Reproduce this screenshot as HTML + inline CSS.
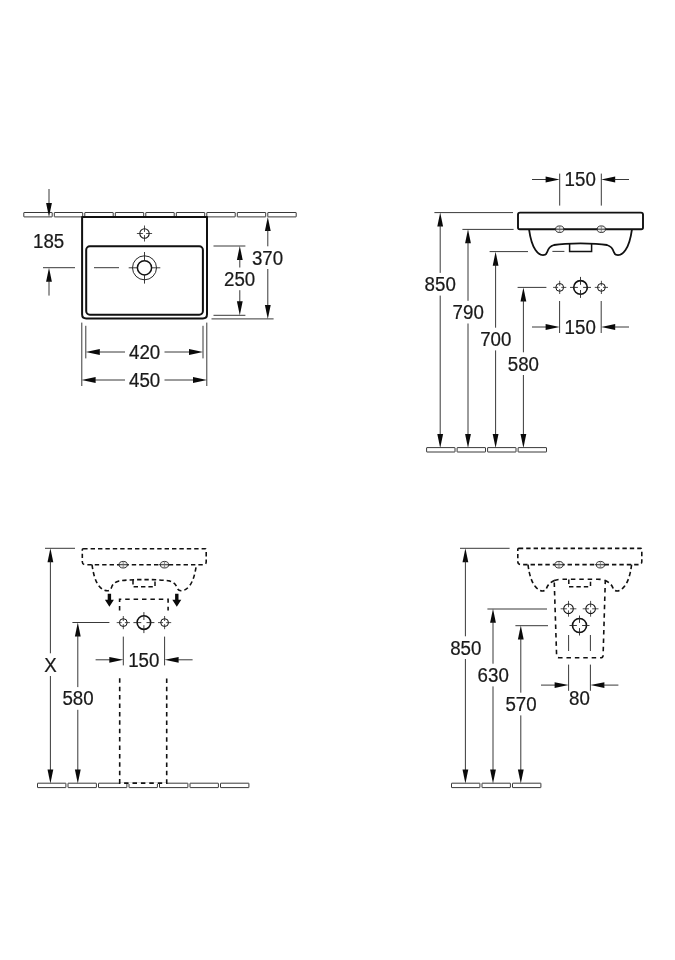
<!DOCTYPE html>
<html><head><meta charset="utf-8"><title>Drawing</title>
<style>
html,body{margin:0;padding:0;background:#fff;}
body{width:675px;height:960px;overflow:hidden;font-family:"Liberation Sans",sans-serif;}
svg{display:block;will-change:transform;}
svg text{font-family:"Liberation Sans",sans-serif;}
</style></head><body>
<svg width="675" height="960" viewBox="0 0 675 960">
<rect width="675" height="960" fill="#fff"/>
<rect x="23.80" y="212.5" width="28.4" height="4.4" rx="0.3" fill="#fff" stroke="#222" stroke-width="0.9"/>
<rect x="54.30" y="212.5" width="28.4" height="4.4" rx="0.3" fill="#fff" stroke="#222" stroke-width="0.9"/>
<rect x="84.80" y="212.5" width="28.4" height="4.4" rx="0.3" fill="#fff" stroke="#222" stroke-width="0.9"/>
<rect x="115.30" y="212.5" width="28.4" height="4.4" rx="0.3" fill="#fff" stroke="#222" stroke-width="0.9"/>
<rect x="145.80" y="212.5" width="28.4" height="4.4" rx="0.3" fill="#fff" stroke="#222" stroke-width="0.9"/>
<rect x="176.30" y="212.5" width="28.4" height="4.4" rx="0.3" fill="#fff" stroke="#222" stroke-width="0.9"/>
<rect x="206.80" y="212.5" width="28.4" height="4.4" rx="0.3" fill="#fff" stroke="#222" stroke-width="0.9"/>
<rect x="237.30" y="212.5" width="28.4" height="4.4" rx="0.3" fill="#fff" stroke="#222" stroke-width="0.9"/>
<rect x="267.80" y="212.5" width="28.4" height="4.4" rx="0.3" fill="#fff" stroke="#222" stroke-width="0.9"/>
<path d="M82.1 217 L82.1 314.2 Q82.1 318.4 86.3 318.4 L202.8 318.4 Q207 318.4 207 314.2 L207 217 Z" fill="#fff" stroke="#111" stroke-width="2" stroke-linejoin="round"/>
<rect x="86.2" y="246.3" width="116.7" height="68.4" rx="3.6" fill="none" stroke="#111" stroke-width="2"/>
<circle cx="144.5" cy="233.5" r="4.7" fill="none" stroke="#111" stroke-width="1.05"/>
<path d="M136.9 233.5L142.9 233.5" stroke="#222" stroke-width="0.8" fill="none" />
<path d="M146.1 233.5L152.1 233.5" stroke="#222" stroke-width="0.8" fill="none" />
<path d="M144.5 225.5L144.5 231.9" stroke="#222" stroke-width="0.8" fill="none" />
<path d="M144.5 235.1L144.5 241.5" stroke="#222" stroke-width="0.8" fill="none" />
<circle cx="144.5" cy="267.8" r="12" fill="none" stroke="#111" stroke-width="0.9"/>
<circle cx="144.5" cy="267.8" r="7.1" fill="none" stroke="#111" stroke-width="1.5"/>
<path d="M128.7 267.8L137.5 267.8" stroke="#222" stroke-width="0.9" fill="none" />
<path d="M151.5 267.8L160.3 267.8" stroke="#222" stroke-width="0.9" fill="none" />
<path d="M144.5 252.0L144.5 260.8" stroke="#222" stroke-width="0.9" fill="none" />
<path d="M144.5 274.8L144.5 283.6" stroke="#222" stroke-width="0.9" fill="none" />
<path d="M49 189L49 205" stroke="#222" stroke-width="0.9" fill="none" />
<polygon points="49.00,217.00 46.10,203.00 51.90,203.00" fill="#0a0a0a"/>
<text transform="translate(48.6 248) scale(0.985 1.055)" x="0" y="0" font-size="19" text-anchor="middle" fill="#1a1a1a" stroke="#1a1a1a" stroke-width="0.22">185</text>
<path d="M43 267.7L75 267.7" stroke="#222" stroke-width="0.9" fill="none" />
<path d="M94 267.7L119 267.7" stroke="#222" stroke-width="0.9" fill="none" />
<polygon points="49.00,267.70 46.10,281.70 51.90,281.70" fill="#0a0a0a"/>
<path d="M49 280L49 295.6" stroke="#222" stroke-width="0.9" fill="none" />
<path d="M213.5 246L245.4 246" stroke="#222" stroke-width="0.9" fill="none" />
<path d="M213.5 315.3L245.4 315.3" stroke="#222" stroke-width="0.9" fill="none" />
<polygon points="239.80,246.00 236.90,260.00 242.70,260.00" fill="#0a0a0a"/>
<path d="M239.8 258L239.8 267.5" stroke="#222" stroke-width="0.9" fill="none" />
<text transform="translate(239.6 285.8) scale(0.985 1.055)" x="0" y="0" font-size="19" text-anchor="middle" fill="#1a1a1a" stroke="#1a1a1a" stroke-width="0.22">250</text>
<path d="M239.8 290.2L239.8 303.3" stroke="#222" stroke-width="0.9" fill="none" />
<polygon points="239.80,315.30 236.90,301.30 242.70,301.30" fill="#0a0a0a"/>
<polygon points="267.80,217.00 264.90,231.00 270.70,231.00" fill="#0a0a0a"/>
<path d="M267.8 229L267.8 246.3" stroke="#222" stroke-width="0.9" fill="none" />
<text transform="translate(267.5 264.6) scale(0.985 1.055)" x="0" y="0" font-size="19" text-anchor="middle" fill="#1a1a1a" stroke="#1a1a1a" stroke-width="0.22">370</text>
<path d="M267.8 269.0L267.8 306.9" stroke="#222" stroke-width="0.9" fill="none" />
<polygon points="267.80,318.90 264.90,304.90 270.70,304.90" fill="#0a0a0a"/>
<path d="M211.5 318.9L273.6 318.9" stroke="#222" stroke-width="0.9" fill="none" />
<path d="M81.8 322.6L81.8 386" stroke="#222" stroke-width="0.9" fill="none" />
<path d="M206.8 322.6L206.8 386" stroke="#222" stroke-width="0.9" fill="none" />
<path d="M85.8 325.8L85.8 358.4" stroke="#222" stroke-width="0.9" fill="none" />
<path d="M203 325.8L203 358.4" stroke="#222" stroke-width="0.9" fill="none" />
<polygon points="85.80,352.00 99.80,349.10 99.80,354.90" fill="#0a0a0a"/>
<path d="M99 352L125 352" stroke="#222" stroke-width="0.9" fill="none" />
<text transform="translate(144.6 359.2) scale(0.985 1.055)" x="0" y="0" font-size="19" text-anchor="middle" fill="#1a1a1a" stroke="#1a1a1a" stroke-width="0.22">420</text>
<path d="M164.5 352L190 352" stroke="#222" stroke-width="0.9" fill="none" />
<polygon points="203.00,352.00 189.00,349.10 189.00,354.90" fill="#0a0a0a"/>
<polygon points="81.60,380.00 95.60,377.10 95.60,382.90" fill="#0a0a0a"/>
<path d="M95 380L125 380" stroke="#222" stroke-width="0.9" fill="none" />
<text transform="translate(144.6 387.2) scale(0.985 1.055)" x="0" y="0" font-size="19" text-anchor="middle" fill="#1a1a1a" stroke="#1a1a1a" stroke-width="0.22">450</text>
<path d="M164.5 380L194 380" stroke="#222" stroke-width="0.9" fill="none" />
<polygon points="207.00,380.00 193.00,377.10 193.00,382.90" fill="#0a0a0a"/>
<path d="M559.7 173.6L559.7 205.6" stroke="#222" stroke-width="0.9" fill="none" />
<path d="M601.3 173.6L601.3 205.6" stroke="#222" stroke-width="0.9" fill="none" />
<path d="M532 179.5L547 179.5" stroke="#222" stroke-width="0.9" fill="none" />
<polygon points="559.60,179.50 545.60,176.60 545.60,182.40" fill="#0a0a0a"/>
<polygon points="601.20,179.50 615.20,176.60 615.20,182.40" fill="#0a0a0a"/>
<path d="M614 179.5L629 179.5" stroke="#222" stroke-width="0.9" fill="none" />
<text transform="translate(580.2 186.2) scale(0.985 1.055)" x="0" y="0" font-size="19" text-anchor="middle" fill="#1a1a1a" stroke="#1a1a1a" stroke-width="0.22">150</text>
<path d="M520 212.6 L641 212.6 Q643 212.6 643 214.6 L643 227.4 Q643 229.2 641.2 229.2 L519.8 229.2 Q518 229.2 518 227.4 L518 214.6 Q518 212.6 520 212.6 Z" fill="#fff" stroke="#111" stroke-width="1.9"/>
<path d="M529 229.2 C530.5 240 532.5 246 535.5 250 C538 253.6 540.5 255.2 543 255.2 C545.6 255.2 546.6 254 547.2 252 C548.2 248.4 550 246.2 554 245 C560 243.9 570 243.3 580.5 243.3 C591 243.3 601 243.9 607 245 C611 246.2 612.8 248.4 613.8 252 C614.4 254 615.4 255.2 618 255.2 C620.5 255.2 623 253.6 625.5 250 C628.5 246 630.5 240 632 229.2" fill="none" stroke="#111" stroke-width="1.8"/>
<path d="M569.6 243.6 L569.6 251.4 L591.6 251.4 L591.6 243.6" fill="none" stroke="#111" stroke-width="1.5"/>
<ellipse cx="559.7" cy="229.2" rx="4.1" ry="3.3" fill="#ececec" stroke="#222" stroke-width="0.9"/>
<path d="M554.1 229.2L565.3000000000001 229.2" stroke="#222" stroke-width="0.9" fill="none" />
<path d="M559.7 226.2L559.7 232.2" stroke="#666" stroke-width="0.7" fill="none" />
<ellipse cx="601.3" cy="229.2" rx="4.1" ry="3.3" fill="#ececec" stroke="#222" stroke-width="0.9"/>
<path d="M595.6999999999999 229.2L606.9 229.2" stroke="#222" stroke-width="0.9" fill="none" />
<path d="M601.3 226.2L601.3 232.2" stroke="#666" stroke-width="0.7" fill="none" />
<circle cx="559.7" cy="287.4" r="3.9" fill="none" stroke="#111" stroke-width="1.0"/>
<path d="M553.1 287.4L558.1 287.4" stroke="#222" stroke-width="0.8" fill="none" />
<path d="M561.3000000000001 287.4L566.3000000000001 287.4" stroke="#222" stroke-width="0.8" fill="none" />
<path d="M559.7 280.79999999999995L559.7 285.79999999999995" stroke="#222" stroke-width="0.8" fill="none" />
<path d="M559.7 289.0L559.7 294.0" stroke="#222" stroke-width="0.8" fill="none" />
<circle cx="601.4" cy="287.4" r="3.9" fill="none" stroke="#111" stroke-width="1.0"/>
<path d="M594.8 287.4L599.8 287.4" stroke="#222" stroke-width="0.8" fill="none" />
<path d="M603.0 287.4L608.0 287.4" stroke="#222" stroke-width="0.8" fill="none" />
<path d="M601.4 280.79999999999995L601.4 285.79999999999995" stroke="#222" stroke-width="0.8" fill="none" />
<path d="M601.4 289.0L601.4 294.0" stroke="#222" stroke-width="0.8" fill="none" />
<circle cx="580.5" cy="287.4" r="6.8" fill="none" stroke="#111" stroke-width="1.6"/>
<path d="M570.0 287.4L577.9 287.4" stroke="#222" stroke-width="0.9" fill="none" />
<path d="M583.1 287.4L591.0 287.4" stroke="#222" stroke-width="0.9" fill="none" />
<path d="M580.5 276.9L580.5 284.79999999999995" stroke="#222" stroke-width="0.9" fill="none" />
<path d="M580.5 290.0L580.5 297.9" stroke="#222" stroke-width="0.9" fill="none" />
<path d="M559.6 301L559.6 333" stroke="#222" stroke-width="0.9" fill="none" />
<path d="M601.2 301L601.2 333" stroke="#222" stroke-width="0.9" fill="none" />
<path d="M532 327L547 327" stroke="#222" stroke-width="0.9" fill="none" />
<polygon points="559.60,327.00 545.60,324.10 545.60,329.90" fill="#0a0a0a"/>
<polygon points="601.20,327.00 615.20,324.10 615.20,329.90" fill="#0a0a0a"/>
<path d="M614 327L629 327" stroke="#222" stroke-width="0.9" fill="none" />
<text transform="translate(580.2 334.3) scale(0.985 1.055)" x="0" y="0" font-size="19" text-anchor="middle" fill="#1a1a1a" stroke="#1a1a1a" stroke-width="0.22">150</text>
<path d="M434.4 212.6L513 212.6" stroke="#222" stroke-width="0.9" fill="none" />
<polygon points="440.20,212.60 437.30,226.60 443.10,226.60" fill="#0a0a0a"/>
<path d="M440.2 224.6L440.2 272.9" stroke="#222" stroke-width="0.9" fill="none" />
<text transform="translate(440.2 291.2) scale(0.985 1.055)" x="0" y="0" font-size="19" text-anchor="middle" fill="#1a1a1a" stroke="#1a1a1a" stroke-width="0.22">850</text>
<path d="M440.2 295.59999999999997L440.2 436" stroke="#222" stroke-width="0.9" fill="none" />
<polygon points="440.20,448.00 437.30,434.00 443.10,434.00" fill="#0a0a0a"/>
<path d="M462.4 229.4L513.6 229.4" stroke="#222" stroke-width="0.9" fill="none" />
<polygon points="468.00,229.20 465.10,243.20 470.90,243.20" fill="#0a0a0a"/>
<path d="M468 241.2L468 300.8" stroke="#222" stroke-width="0.9" fill="none" />
<text transform="translate(468.2 319.1) scale(0.985 1.055)" x="0" y="0" font-size="19" text-anchor="middle" fill="#1a1a1a" stroke="#1a1a1a" stroke-width="0.22">790</text>
<path d="M468 323.5L468 436" stroke="#222" stroke-width="0.9" fill="none" />
<polygon points="468.00,448.00 465.10,434.00 470.90,434.00" fill="#0a0a0a"/>
<path d="M489.6 251.6L528 251.6" stroke="#222" stroke-width="0.9" fill="none" />
<path d="M552.4 251.4L564.4 251.4" stroke="#222" stroke-width="0.9" fill="none" />
<polygon points="495.60,251.70 492.70,265.70 498.50,265.70" fill="#0a0a0a"/>
<path d="M495.6 263.7L495.6 327.7" stroke="#222" stroke-width="0.9" fill="none" />
<text transform="translate(495.8 346) scale(0.985 1.055)" x="0" y="0" font-size="19" text-anchor="middle" fill="#1a1a1a" stroke="#1a1a1a" stroke-width="0.22">700</text>
<path d="M495.6 350.4L495.6 436" stroke="#222" stroke-width="0.9" fill="none" />
<polygon points="495.60,448.00 492.70,434.00 498.50,434.00" fill="#0a0a0a"/>
<path d="M517.6 287.4L546.4 287.4" stroke="#222" stroke-width="0.9" fill="none" />
<polygon points="523.40,287.40 520.50,301.40 526.30,301.40" fill="#0a0a0a"/>
<path d="M523.4 299.4L523.4 352.3" stroke="#222" stroke-width="0.9" fill="none" />
<text transform="translate(523.4 370.6) scale(0.985 1.055)" x="0" y="0" font-size="19" text-anchor="middle" fill="#1a1a1a" stroke="#1a1a1a" stroke-width="0.22">580</text>
<path d="M523.4 375.0L523.4 436" stroke="#222" stroke-width="0.9" fill="none" />
<polygon points="523.40,448.00 520.50,434.00 526.30,434.00" fill="#0a0a0a"/>
<rect x="426.60" y="447.6" width="28.4" height="4.4" rx="0.3" fill="#fff" stroke="#222" stroke-width="0.9"/>
<rect x="457.10" y="447.6" width="28.4" height="4.4" rx="0.3" fill="#fff" stroke="#222" stroke-width="0.9"/>
<rect x="487.60" y="447.6" width="28.4" height="4.4" rx="0.3" fill="#fff" stroke="#222" stroke-width="0.9"/>
<rect x="518.10" y="447.6" width="28.4" height="4.4" rx="0.3" fill="#fff" stroke="#222" stroke-width="0.9"/>
<rect x="37.50" y="783.2" width="28.4" height="4.4" rx="0.3" fill="#fff" stroke="#222" stroke-width="0.9"/>
<rect x="68.00" y="783.2" width="28.4" height="4.4" rx="0.3" fill="#fff" stroke="#222" stroke-width="0.9"/>
<rect x="98.50" y="783.2" width="28.4" height="4.4" rx="0.3" fill="#fff" stroke="#222" stroke-width="0.9"/>
<rect x="129.00" y="783.2" width="28.4" height="4.4" rx="0.3" fill="#fff" stroke="#222" stroke-width="0.9"/>
<rect x="159.50" y="783.2" width="28.4" height="4.4" rx="0.3" fill="#fff" stroke="#222" stroke-width="0.9"/>
<rect x="190.00" y="783.2" width="28.4" height="4.4" rx="0.3" fill="#fff" stroke="#222" stroke-width="0.9"/>
<rect x="220.50" y="783.2" width="28.4" height="4.4" rx="0.3" fill="#fff" stroke="#222" stroke-width="0.9"/>
<path d="M83.2 548.7 L205.2 548.7 Q206.2 548.7 206.2 549.7 L206.2 561.7 Q206.2 564.7 203.2 564.7 L85.3 564.7 Q82.3 564.7 82.3 561.7 L82.3 549.7 Q82.3 548.7 83.3 548.7" fill="none" stroke="#111" stroke-width="1.6" stroke-dasharray="4.4 3.0"/>
<path d="M92 564.7 C93.5 575 95.5 581.5 99 586 C101.6 589.3 104.5 590.8 107.4 590.8 C109.8 590.8 110.8 589.4 111.6 587.2 C112.8 584 115 582 119 580.9 C127 579.8 136 579.6 144.2 579.6 C152.4 579.6 161.4 579.8 169.4 580.9 C173.4 582 175.6 584 176.8 587.2 C177.6 589.4 178.6 590.8 181 590.8 C183.9 590.8 186.8 589.3 189.4 586 C192.9 581.5 194.9 575 196.4 564.7" fill="none" stroke="#111" stroke-width="1.6" stroke-dasharray="4.4 3.0"/>
<path d="M133 580 L133 586.8 L155 586.8 L155 580" fill="none" stroke="#111" stroke-width="1.5" stroke-dasharray="4.4 3.0"/>
<ellipse cx="123.2" cy="564.7" rx="4.1" ry="3.3" fill="#ececec" stroke="#222" stroke-width="0.9"/>
<path d="M117.60000000000001 564.7L128.8 564.7" stroke="#222" stroke-width="0.9" fill="none" />
<path d="M123.2 561.7L123.2 567.7" stroke="#666" stroke-width="0.7" fill="none" />
<ellipse cx="164.5" cy="564.7" rx="4.1" ry="3.3" fill="#ececec" stroke="#222" stroke-width="0.9"/>
<path d="M158.9 564.7L170.1 564.7" stroke="#222" stroke-width="0.9" fill="none" />
<path d="M164.5 561.7L164.5 567.7" stroke="#666" stroke-width="0.7" fill="none" />
<path d="M107.7 593.8 L111.10000000000001 593.8 L111.10000000000001 599.8 L113.9 599.8 L109.4 606.8 L104.9 599.8 L107.7 599.8 Z" fill="#0a0a0a"/>
<path d="M175.10000000000002 593.8 L178.5 593.8 L178.5 599.8 L181.3 599.8 L176.8 606.8 L172.3 599.8 L175.10000000000002 599.8 Z" fill="#0a0a0a"/>
<path d="M119.6 610.4 L119.6 599.2 L168.1 599.2 L168.1 610.4" fill="none" stroke="#111" stroke-width="1.6" stroke-dasharray="4.5 3.9"/>
<path d="M120.6 783.2L166 783.2" stroke="#fff" stroke-width="1.6" fill="none" />
<path d="M119.7 678.3 L119.7 783.1 L166.7 783.1 L166.7 678.3" fill="none" stroke="#111" stroke-width="1.6" stroke-dasharray="4.5 3.9"/>
<circle cx="123.3" cy="622.6" r="3.9" fill="none" stroke="#111" stroke-width="1.0"/>
<path d="M116.7 622.6L121.7 622.6" stroke="#222" stroke-width="0.8" fill="none" />
<path d="M124.89999999999999 622.6L129.9 622.6" stroke="#222" stroke-width="0.8" fill="none" />
<path d="M123.3 616.0L123.3 621.0" stroke="#222" stroke-width="0.8" fill="none" />
<path d="M123.3 624.2L123.3 629.2" stroke="#222" stroke-width="0.8" fill="none" />
<circle cx="164.6" cy="622.6" r="3.9" fill="none" stroke="#111" stroke-width="1.0"/>
<path d="M158.0 622.6L163.0 622.6" stroke="#222" stroke-width="0.8" fill="none" />
<path d="M166.2 622.6L171.2 622.6" stroke="#222" stroke-width="0.8" fill="none" />
<path d="M164.6 616.0L164.6 621.0" stroke="#222" stroke-width="0.8" fill="none" />
<path d="M164.6 624.2L164.6 629.2" stroke="#222" stroke-width="0.8" fill="none" />
<circle cx="143.9" cy="622.6" r="6.8" fill="none" stroke="#111" stroke-width="1.6"/>
<path d="M133.4 622.6L141.3 622.6" stroke="#222" stroke-width="0.9" fill="none" />
<path d="M146.5 622.6L154.4 622.6" stroke="#222" stroke-width="0.9" fill="none" />
<path d="M143.9 612.1L143.9 620.0" stroke="#222" stroke-width="0.9" fill="none" />
<path d="M143.9 625.2L143.9 633.1" stroke="#222" stroke-width="0.9" fill="none" />
<path d="M123.3 636.6L123.3 665.4" stroke="#222" stroke-width="0.9" fill="none" />
<path d="M164.6 636.6L164.6 665.4" stroke="#222" stroke-width="0.9" fill="none" />
<path d="M95.6 659.8L110 659.8" stroke="#222" stroke-width="0.9" fill="none" />
<polygon points="123.30,659.80 109.30,656.90 109.30,662.70" fill="#0a0a0a"/>
<polygon points="164.60,659.80 178.60,656.90 178.60,662.70" fill="#0a0a0a"/>
<path d="M178 659.8L192.6 659.8" stroke="#222" stroke-width="0.9" fill="none" />
<text transform="translate(143.8 666.8) scale(0.985 1.055)" x="0" y="0" font-size="19" text-anchor="middle" fill="#1a1a1a" stroke="#1a1a1a" stroke-width="0.22">150</text>
<path d="M45 548.3L75 548.3" stroke="#222" stroke-width="0.9" fill="none" />
<polygon points="50.40,548.30 47.50,562.30 53.30,562.30" fill="#0a0a0a"/>
<path d="M50.4 560.3L50.4 653.3000000000001" stroke="#222" stroke-width="0.9" fill="none" />
<text transform="translate(50.6 671.6) scale(0.985 1.055)" x="0" y="0" font-size="19" text-anchor="middle" fill="#1a1a1a" stroke="#1a1a1a" stroke-width="0.22">X</text>
<path d="M50.4 676.0L50.4 771.6" stroke="#222" stroke-width="0.9" fill="none" />
<polygon points="50.40,783.60 47.50,769.60 53.30,769.60" fill="#0a0a0a"/>
<path d="M72.4 622.5L109.4 622.5" stroke="#222" stroke-width="0.9" fill="none" />
<polygon points="77.80,622.50 74.90,636.50 80.70,636.50" fill="#0a0a0a"/>
<path d="M77.8 634.5L77.8 687.1" stroke="#222" stroke-width="0.9" fill="none" />
<text transform="translate(78 705.4) scale(0.985 1.055)" x="0" y="0" font-size="19" text-anchor="middle" fill="#1a1a1a" stroke="#1a1a1a" stroke-width="0.22">580</text>
<path d="M77.8 709.8L77.8 771.6" stroke="#222" stroke-width="0.9" fill="none" />
<polygon points="77.80,783.60 74.90,769.60 80.70,769.60" fill="#0a0a0a"/>
<rect x="451.50" y="783.2" width="28.4" height="4.4" rx="0.3" fill="#fff" stroke="#222" stroke-width="0.9"/>
<rect x="482.00" y="783.2" width="28.4" height="4.4" rx="0.3" fill="#fff" stroke="#222" stroke-width="0.9"/>
<rect x="512.50" y="783.2" width="28.4" height="4.4" rx="0.3" fill="#fff" stroke="#222" stroke-width="0.9"/>
<path d="M518.8 548.4 L640.8 548.4 Q641.8 548.4 641.8 549.4 L641.8 561.6 Q641.8 564.6 638.8 564.6 L520.8 564.6 Q517.8 564.6 517.8 561.6 L517.8 549.4 Q517.8 548.4 518.8 548.4" fill="none" stroke="#111" stroke-width="1.6" stroke-dasharray="4.4 3.0"/>
<path d="M528 564.6 C529.4 576 531.9 582 534.9 586 C537.4 589.4 539.9 591 542.4 591 C545 591 546 589.6 546.8 587.6 C548 584.6 550.4 582.4 554.4 580.6" fill="none" stroke="#111" stroke-width="1.6" stroke-dasharray="4.4 3.0"/>
<path d="M631.6 564.6 C630.2 576 627.7 582 624.7 586 C622.2 589.4 619.7 591 617.2 591 C614.6 591 613.6 589.6 612.8 587.6 C611.6 584.6 609.2 582.4 605.2 580.6" fill="none" stroke="#111" stroke-width="1.6" stroke-dasharray="4.4 3.0"/>
<path d="M554.2 580.6 Q558 579.2 562 579.2 L597.6 579.2 Q601.6 579.2 605.3 580.6 L603.1 655.4 Q603 657.7 600.7 657.7 L559 657.7 Q556.7 657.7 556.6 655.4 Z" fill="none" stroke="#111" stroke-width="1.6" stroke-dasharray="4.5 3.9"/>
<path d="M568.8 579.6 L568.8 586.8 L590.5 586.8 L590.5 579.6" fill="none" stroke="#111" stroke-width="1.5" stroke-dasharray="4.4 3.0"/>
<ellipse cx="559" cy="564.7" rx="4.1" ry="3.3" fill="#ececec" stroke="#222" stroke-width="0.9"/>
<path d="M553.4 564.7L564.6 564.7" stroke="#222" stroke-width="0.9" fill="none" />
<path d="M559 561.7L559 567.7" stroke="#666" stroke-width="0.7" fill="none" />
<ellipse cx="600.4" cy="564.7" rx="4.1" ry="3.3" fill="#ececec" stroke="#222" stroke-width="0.9"/>
<path d="M594.8 564.7L606.0 564.7" stroke="#222" stroke-width="0.9" fill="none" />
<path d="M600.4 561.7L600.4 567.7" stroke="#666" stroke-width="0.7" fill="none" />
<circle cx="568.5" cy="608.8" r="4.8" fill="none" stroke="#111" stroke-width="1.05"/>
<path d="M560.6 608.8L566.9 608.8" stroke="#222" stroke-width="0.8" fill="none" />
<path d="M570.1 608.8L576.4 608.8" stroke="#222" stroke-width="0.8" fill="none" />
<path d="M568.5 600.9L568.5 607.1999999999999" stroke="#222" stroke-width="0.8" fill="none" />
<path d="M568.5 610.4L568.5 616.6999999999999" stroke="#222" stroke-width="0.8" fill="none" />
<circle cx="590.6" cy="608.8" r="4.8" fill="none" stroke="#111" stroke-width="1.05"/>
<path d="M582.7 608.8L589.0 608.8" stroke="#222" stroke-width="0.8" fill="none" />
<path d="M592.2 608.8L598.5 608.8" stroke="#222" stroke-width="0.8" fill="none" />
<path d="M590.6 600.9L590.6 607.1999999999999" stroke="#222" stroke-width="0.8" fill="none" />
<path d="M590.6 610.4L590.6 616.6999999999999" stroke="#222" stroke-width="0.8" fill="none" />
<circle cx="579.5" cy="625.5" r="7.0" fill="none" stroke="#111" stroke-width="1.6"/>
<path d="M569.5 625.5L576.9 625.5" stroke="#222" stroke-width="0.9" fill="none" />
<path d="M582.1 625.5L589.5 625.5" stroke="#222" stroke-width="0.9" fill="none" />
<path d="M579.5 615.5L579.5 622.9" stroke="#222" stroke-width="0.9" fill="none" />
<path d="M579.5 628.1L579.5 635.5" stroke="#222" stroke-width="0.9" fill="none" />
<path d="M568.6 635L568.6 651" stroke="#222" stroke-width="0.9" fill="none" />
<path d="M590.4 635L590.4 651" stroke="#222" stroke-width="0.9" fill="none" />
<path d="M568.6 664.6L568.6 690.8" stroke="#222" stroke-width="0.9" fill="none" />
<path d="M590.4 664.6L590.4 690.8" stroke="#222" stroke-width="0.9" fill="none" />
<path d="M541 685.1L556 685.1" stroke="#222" stroke-width="0.9" fill="none" />
<polygon points="568.60,685.10 554.60,682.20 554.60,688.00" fill="#0a0a0a"/>
<polygon points="590.40,685.10 604.40,682.20 604.40,688.00" fill="#0a0a0a"/>
<path d="M603 685.1L618.4 685.1" stroke="#222" stroke-width="0.9" fill="none" />
<text transform="translate(579.4 705.2) scale(0.985 1.055)" x="0" y="0" font-size="19" text-anchor="middle" fill="#1a1a1a" stroke="#1a1a1a" stroke-width="0.22">80</text>
<path d="M460 548.3L509.6 548.3" stroke="#222" stroke-width="0.9" fill="none" />
<polygon points="465.40,548.30 462.50,562.30 468.30,562.30" fill="#0a0a0a"/>
<path d="M465.4 560.3L465.4 636.3000000000001" stroke="#222" stroke-width="0.9" fill="none" />
<text transform="translate(465.8 654.6) scale(0.985 1.055)" x="0" y="0" font-size="19" text-anchor="middle" fill="#1a1a1a" stroke="#1a1a1a" stroke-width="0.22">850</text>
<path d="M465.4 659.0L465.4 771.6" stroke="#222" stroke-width="0.9" fill="none" />
<polygon points="465.40,783.60 462.50,769.60 468.30,769.60" fill="#0a0a0a"/>
<path d="M487.4 609L547 609" stroke="#222" stroke-width="0.9" fill="none" />
<polygon points="493.00,608.80 490.10,622.80 495.90,622.80" fill="#0a0a0a"/>
<path d="M493 620.8L493 663.7" stroke="#222" stroke-width="0.9" fill="none" />
<text transform="translate(493.2 682) scale(0.985 1.055)" x="0" y="0" font-size="19" text-anchor="middle" fill="#1a1a1a" stroke="#1a1a1a" stroke-width="0.22">630</text>
<path d="M493 686.4L493 771.6" stroke="#222" stroke-width="0.9" fill="none" />
<polygon points="493.00,783.60 490.10,769.60 495.90,769.60" fill="#0a0a0a"/>
<path d="M515.4 625.7L548 625.7" stroke="#222" stroke-width="0.9" fill="none" />
<polygon points="520.80,625.50 517.90,639.50 523.70,639.50" fill="#0a0a0a"/>
<path d="M520.8 637.5L520.8 692.7" stroke="#222" stroke-width="0.9" fill="none" />
<text transform="translate(521 711) scale(0.985 1.055)" x="0" y="0" font-size="19" text-anchor="middle" fill="#1a1a1a" stroke="#1a1a1a" stroke-width="0.22">570</text>
<path d="M520.8 715.4L520.8 771.6" stroke="#222" stroke-width="0.9" fill="none" />
<polygon points="520.80,783.60 517.90,769.60 523.70,769.60" fill="#0a0a0a"/>
</svg>
</body></html>
